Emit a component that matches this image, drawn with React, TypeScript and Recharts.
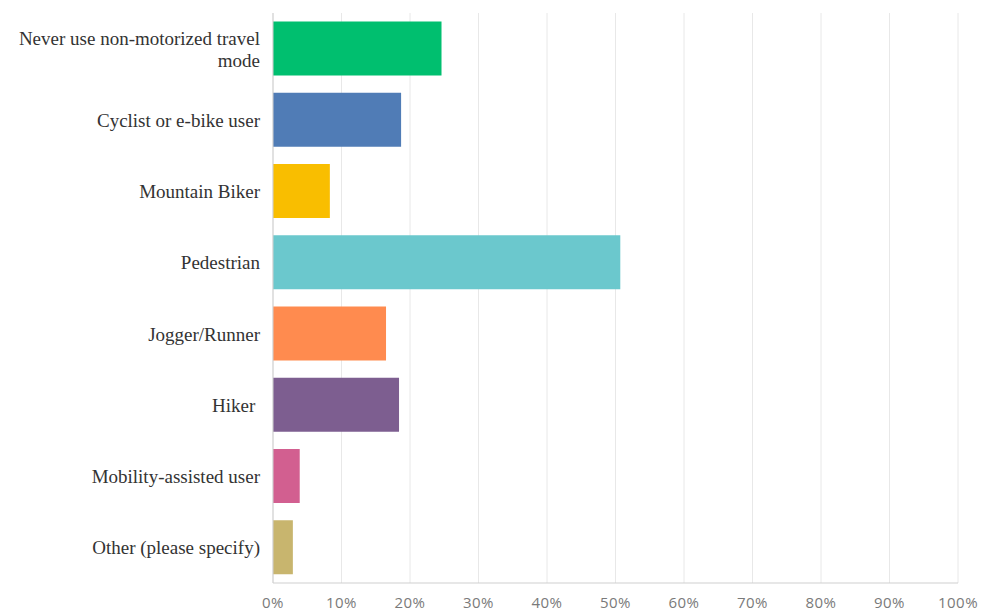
import React from 'react';
import { BarChart, Bar, XAxis, YAxis, CartesianGrid, Cell } from 'recharts';

const categories = [
  'Never use non-motorized travel mode',
  'Cyclist or e-bike user',
  'Mountain Biker',
  'Pedestrian',
  'Jogger/Runner',
  'Hiker\u00a0',
  'Mobility-assisted user',
  'Other (please specify)',
];
const percents = [24.6, 18.7, 8.3, 50.7, 16.5, 18.4, 3.9, 2.9];
const barColors = ['#00BF6F', '#507CB6', '#F9BE00', '#6BC8CD', '#FF8B4F', '#7D5E90', '#D25F90', '#C8B56E'];
const xTicks = [0, 10, 20, 30, 40, 50, 60, 70, 80, 90, 100];

const data = categories.map((name, i) => ({ name, value: percents[i] }));

const LABEL_FONT = '19px "Liberation Serif", "Times New Roman", serif';
const LABEL_WIDTH = 250;

let ctx: CanvasRenderingContext2D | null = null;
const measure = (s: string) => {
  if (!ctx) ctx = document.createElement('canvas').getContext('2d');
  if (!ctx) return s.length * 8;
  ctx.font = LABEL_FONT;
  return ctx.measureText(s).width;
};

// simple word wrap so the long label breaks onto a second line
const wrap = (label: string) => {
  const words = label.split(' ');
  const lines: string[] = [];
  let cur = '';
  words.forEach((w) => {
    const next = cur ? cur + ' ' + w : w;
    if (cur && measure(next) > LABEL_WIDTH) {
      lines.push(cur);
      cur = w;
    } else {
      cur = next;
    }
  });
  if (cur) lines.push(cur);
  return lines;
};

const CategoryTick = (props: any) => {
  const { x, y, payload } = props;
  const lines = wrap(payload.value);
  const lh = 22;
  const startY = y - ((lines.length - 1) * lh) / 2;
  return (
    <text
      x={x - 5}
      y={startY}
      textAnchor="end"
      dominantBaseline="central"
      fill="#333"
      style={{ font: LABEL_FONT }}
    >
      {lines.map((l, i) => (
        <tspan key={i} x={x - 5} dy={i === 0 ? 0 : lh}>
          {l}
        </tspan>
      ))}
    </text>
  );
};

const App: React.FC = () => {
  return (
    <div style={{ position: 'absolute', left: 0, top: 0, background: '#fff' }}>
      <BarChart
        width={994}
        height={616}
        data={data}
        layout="vertical"
        barCategoryGap="12%"
        margin={{ top: 13, right: 36, left: 0, bottom: 0 }}
      >
        <CartesianGrid horizontal={false} stroke="#e8e8e8" />
        <XAxis
          type="number"
          domain={[0, 100]}
          ticks={xTicks}
          tickFormatter={(v) => `${v}%`}
          height={33}
          tickSize={0}
          tickMargin={14}
          tickLine={false}
          axisLine={{ stroke: '#cfcfcf' }}
          tick={{ fontFamily: '"Open Sans", sans-serif', fontSize: 15, fill: '#7a7a7a', letterSpacing: 0.5 }}
        />
        <YAxis
          type="category"
          dataKey="name"
          width={273}
          tickLine={false}
          axisLine={{ stroke: '#cfcfcf' }}
          tick={<CategoryTick />}
          interval={0}
        />
        <Bar dataKey="value" isAnimationActive={false}>
          {data.map((d, i) => (
            <Cell key={d.name} fill={barColors[i]} />
          ))}
        </Bar>
      </BarChart>
    </div>
  );
};

export default App;
